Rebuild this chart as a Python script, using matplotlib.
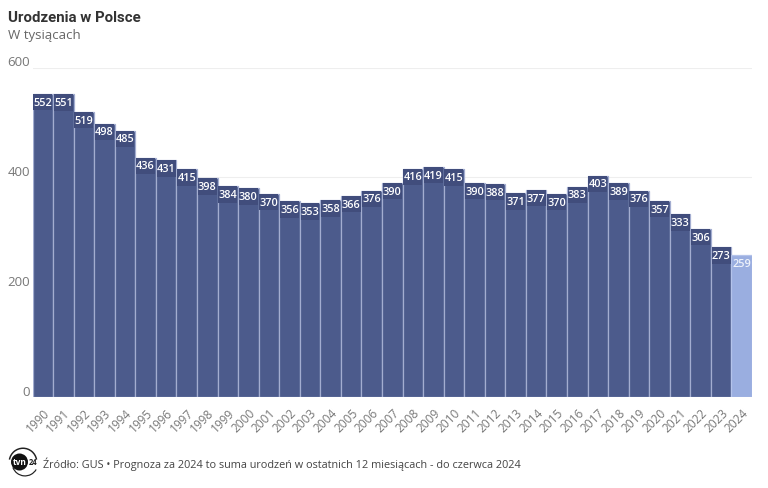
import matplotlib
matplotlib.use("Agg")
import matplotlib.pyplot as plt
from matplotlib.patches import Circle, Wedge

years = list(range(1990, 2025))
values = [552, 551, 519, 498, 485, 436, 431, 415, 398, 384, 380, 370, 356, 353, 358, 366, 376, 390,
          416, 419, 415, 390, 388, 371, 377, 370, 383, 403, 389, 376, 357, 333, 306, 273, 259]
y_ticks = [0, 200, 400, 600]

W, H = 768, 489
plt.rcParams['font.family'] = ['Open Sans', 'DejaVu Sans']
fig = plt.figure(figsize=(W / 100, H / 100), dpi=100)
ax = fig.add_axes([32.5 / W, 1 - 398 / H, (752 - 32.5) / W, (398 - 68.5) / H])

colors = ['#4c5b8c'] * (len(values) - 1) + ['#9aaee0']
edges = ['#a3add0'] * (len(values) - 1) + ['#b4c3ea']
ax.bar(years, values, width=1.0, color=colors, edgecolor=edges, linewidth=0.9, zorder=2)

# darker label chips, same width as the bar, sitting at the bar top
chip_h = 30
for yr, v in zip(years, values):
    if yr != 2024:
        ax.bar(yr, chip_h, bottom=v - chip_h, width=0.92, color='#414d7c', linewidth=0, zorder=3)
    ax.text(yr, v - 15, str(v), color='white' if yr != 2024 else '#eef2fb', fontsize=7.8,
            fontweight='semibold', ha='center', va='center', zorder=4)

ax.set_xlim(1989.5, 2024.5)
ax.set_ylim(0, 600)
ax.set_yticks(y_ticks)
ax.set_yticklabels([])
ax.grid(axis='y', color='#eeeeee', lw=0.8, zorder=0)
ax.set_axisbelow(True)
for s in ax.spines.values():
    s.set_visible(False)
ax.tick_params(axis='y', length=0)
ax.tick_params(axis='x', length=0, pad=6)
ax.set_xticks(years)
ax.set_xticklabels(years, rotation=45, ha='right', rotation_mode='anchor', fontsize=8.6, color='#777777')

for t in y_ticks:
    ax.annotate(str(t), (0, t), xycoords=('axes fraction', 'data'), xytext=(-2, 4), textcoords='offset points',
                ha='right', va='center', fontsize=9.5, color='#777777')

fig.text(8 / W, 1 - 18 / H, 'Urodzenia w Polsce', fontsize=10.8, fontweight='bold', color='#333333',
         family='Roboto', va='center')
fig.text(8 / W, 1 - 35 / H, 'W tysiącach', fontsize=9.5, color='#666666', va='center')
fig.text(43 / W, 1 - 464 / H, 'Źródło: GUS • Prognoza za 2024 to suma urodzeń w ostatnich 12 miesiącach - do czerwca 2024',
         fontsize=7.85, color='#444444', va='center')

# tvn24 logo
logo = fig.add_axes([8 / W, 1 - 479 / H, 32 / W, 32 / H])
logo.set_xlim(0, 32)
logo.set_ylim(0, 32)
logo.axis('off')
logo.add_patch(Wedge((15, 16), 14.5, 10, 170, width=1.5, fc='#222222', ec='none'))
logo.add_patch(Wedge((17, 15), 13.5, 200, 330, width=1.2, fc='#222222', ec='none'))
logo.add_patch(Circle((11.5, 16), 8.5, fc='#111111', ec='none'))
logo.text(11.5, 16, 'tvn', color='white', fontsize=6, fontweight='bold', ha='center', va='center')
logo.text(25, 16, '24', color='#222222', fontsize=5.5, fontweight='bold', ha='center', va='center')

fig.savefig('out.png', dpi=100)
